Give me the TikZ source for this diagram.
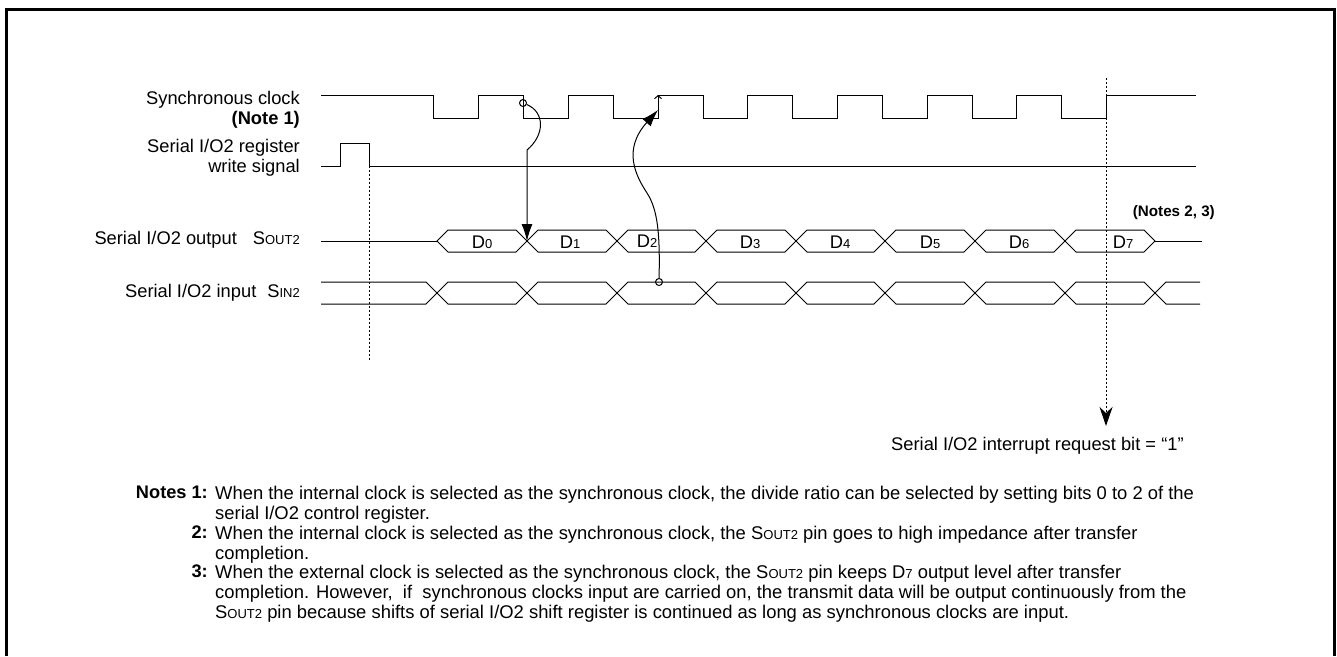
\documentclass[tikz,border=0pt]{standalone}
\usepackage{fontspec}
\setmainfont{Liberation Sans}
\usetikzlibrary{arrows.meta,positioning}
\newcommand{\sml}[1]{{\fontsize{13}{14}\selectfont #1}}

\begin{document}
\begin{tikzpicture}[
    x=1pt, y=-1pt,
    sig/.style={line width=1pt, line join=miter},
    lbl/.style={font=\fontsize{18.3}{22}\selectfont, anchor=east, inner sep=0pt},
    data/.style={font=\fontsize{18.3}{22}\selectfont, inner sep=0pt},
    ntxt/.style={font=\fontsize{18.4}{19.9}\selectfont, align=left, anchor=north west, inner sep=0pt},
    nmark/.style={font=\fontsize{18.2}{19.9}\selectfont\bfseries, anchor=north east, inner sep=0pt},
    ring/.style={draw, circle, line width=1pt, minimum size=7pt, inner sep=0pt},
    flow/.style={-{Latex[length=17pt,width=11pt]}, line width=1pt},
    drop/.style={line width=1pt, dash pattern=on 2pt off 2pt},
    edgetick/.style={-{Straight Barb[length=3pt,width=7pt]}, line width=1pt}
]
\useasboundingbox (0,0) rectangle (1337,656);
\draw[line width=3pt] (6.5,656) -- (6.5,9.5) -- (1334.5,9.5) -- (1334.5,656);

\node[lbl] (clk) at (300,100) {Synchronous clock};
\node[lbl, font=\fontsize{18.3}{22}\selectfont\bfseries] (note1) at (300,120) {(Note 1)};
\node[lbl] (wr1) at (300,148) {Serial I/O2 register};
\node[lbl] (wr2) at (300,168) {write signal};
\node[lbl] (sout) at (300,240) {Serial I/O2 output\hspace{16pt}S\sml{OUT2}};
\node[lbl] (sin) at (300,293) {Serial I/O2 input\hspace{11pt}S\sml{IN2}};

\draw[sig] (321,95) -- (433,95) |- (478,118) |- (523,95) |- (568,118) |- (613,95) |- (658,118) |- (703,95) |- (747,118) |- (792,95) |- (837,118) |- (882,95) |- (927,118) |- (972,95) |- (1016,118) |- (1061,95) |- (1106,118) |- (1196,95);
\draw[sig] (321,166) -- (340,166) |- (369,143) |- (1196,166);

\draw[sig] (321,241) -- (437,241);
\draw[sig] (1155,241) -- (1202,241);
\foreach \xa/\xb in {437/527,527/617,617/706,706/796,796/885,885/975,975/1065,1065/1155} {
  \draw[sig] (\xa,241) -- (\xa+11,230) -- (\xb-11,230) -- (\xb,241) -- (\xb-11,252) -- (\xa+11,252) -- cycle;
  \draw[sig] (\xa,293) -- (\xa+11,282) -- (\xb-11,282) -- (\xb,293) -- (\xb-11,304) -- (\xa+11,304) -- cycle;
}
\draw[sig] (321,282) -- (426,282) -- (437,293) -- (426,304) -- (321,304);
\draw[sig] (1200,282) -- (1166,282) -- (1155,293) -- (1166,304) -- (1200,304);

\foreach \i/\xp in {0/482,1/570,3/750,4/840,5/930,6/1019,7/1123} {
  \node[data] (d\i) at (\xp,242) {D\sml{\i}};
}
\node[data] (d2) at (647,241) {D\sml{2}};
\node[font=\fontsize{15.2}{18}\selectfont\bfseries, anchor=east, inner sep=0pt] (note23) at (1215,213) {(Notes 2, 3)};

\node[ring] (src1) at (523,103) {};
\node[ring] (src2) at (659,282) {};
\coordinate (xd0) at (527,241);
\coordinate (rise) at (658,110);
\coordinate (rise0) at (658,102);
\coordinate (risetop) at (658,95);
\draw[flow] (src1) .. controls (545,112) and (545,135) .. (527,150) -- (xd0);
\draw[flow] (src2) .. controls (660,235) and (658,210) .. (647,193) .. controls (636,176) and (622,150) .. (rise);
\draw[edgetick] (rise0) -- (risetop);

\coordinate (wrend) at (369,166);
\coordinate (wrstop) at (369,360);
\coordinate (irqtop) at (1106,78);
\coordinate (irqtip) at (1106,426);
\draw[drop] (wrend) -- (wrstop);
\draw[drop, -{Stealth[length=19pt,width=13pt,inset=6pt]}] (irqtop) -- (irqtip);

\node[font=\fontsize{18.3}{22}\selectfont, anchor=west, inner sep=0pt] (irq) at (891,446) {Serial I/O2 interrupt request bit = “1”};

\node[ntxt] (n1) at (215,486) {When the internal clock is selected as the synchronous clock, the divide ratio can be selected by setting bits 0 to 2 of the\\serial I/O2 control register.};
\node[ntxt] (n2) at (215,526) {When the internal clock is selected as the synchronous clock, the S\sml{OUT2} pin goes to high impedance after transfer\\completion.};
\node[ntxt] (n3) at (215,565) {When the external clock is selected as the synchronous clock, the S\sml{OUT2} pin keeps D\sml{7} output level after transfer\\completion. However,\ \ if\ \ synchronous clocks input are carried on, the transmit data will be output continuously from the\\S\sml{OUT2} pin because shifts of serial I/O2 shift register is continued as long as synchronous clocks are input.};
\node[nmark] (m1) at ([xshift=-7]n1.north west) {Notes 1:};
\node[nmark] (m2) at ([xshift=-7]n2.north west) {2:};
\node[nmark] (m3) at ([xshift=-7]n3.north west) {3:};
\end{tikzpicture}
\end{document}
